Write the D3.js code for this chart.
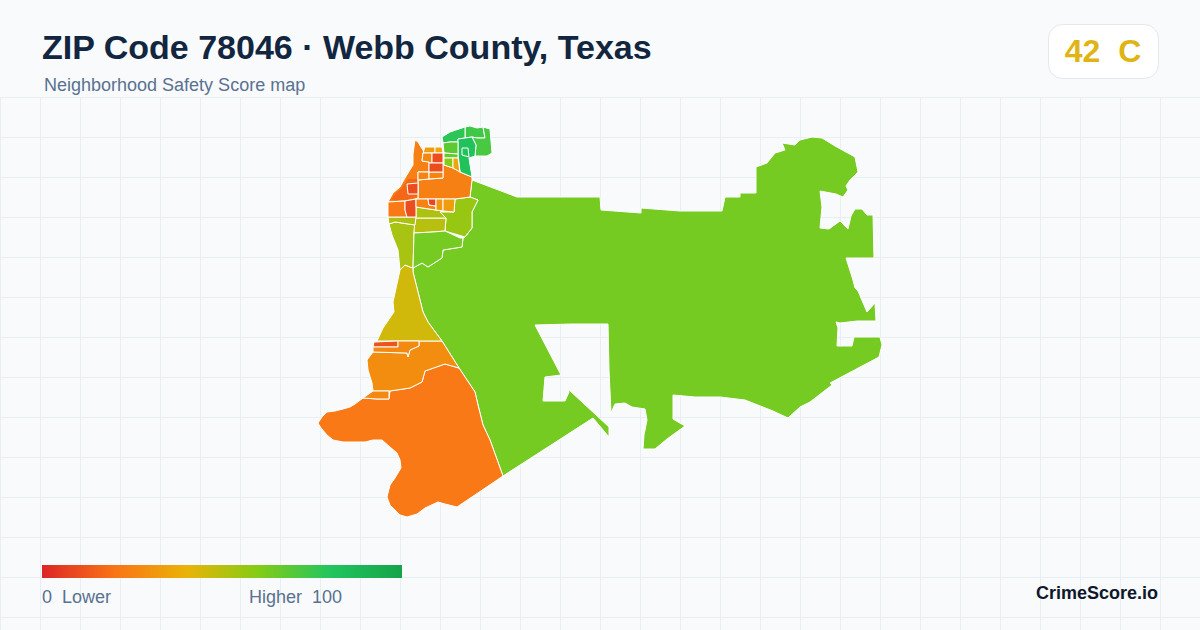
<!DOCTYPE html>
<html>
<head>
<meta charset="utf-8">
<script src="https://cdn.jsdelivr.net/npm/d3@7"></script>
<style>
  html, body { margin: 0; padding: 0; background: #f8fafc; }
  svg { display: block; }
  text { font-family: "Liberation Sans", Arial, sans-serif; white-space: pre; }
</style>
</head>
<body>
<div id="chart"></div>
<script>
// chart text
const titleText = 'ZIP Code 78046 · Webb County, Texas';
const subtitleText = 'Neighborhood Safety Score map';
const badgeText = '42  C';
const brandText = 'CrimeScore.io';
const legendLabels = ['0  Lower', 'Higher  100'];

// colour ramp of the score
const rampStops = [0, 20, 40, 60, 80, 100];
const rampColors = ['#dc2626', '#f97316', '#eab308', '#84cc16', '#22c55e', '#16a34a'];

// block group scores, same order as the outlines below
const regionScores = [
  63, 22, 28, 45,
  53, 56, 50, 52, 52, 63,
  24, 24, 25, 25,
  22, 10, 25, 8, 32, 33, 10,
  33, 36, 26, 10, 10,
  74, 78, 72, 82, 82, 68, 66, 60, 36,
  12, 27, 27
];

// outlines
const regionOutlines = [
  // big eastern tract
  [[472,180],[517,197],[600,197],[601,210],[641,213],[641,208],[680,211],[722,211],[725,197],[740,197],[740,193],[756,193],[756,167],[767,163],[775,153],[785,150],[782,143],[795,145],[800,140],[812,137],[822,138],[835,146],[855,157],[858,172],[850,180],[846,186],[848,190],[843,197],[836,194],[820,191],[822,207],[820,228],[829,229],[840,221],[848,229],[851,216],[855,209],[862,209],[867,215],[873,215],[874,258],[846,258],[853,280],[855,288],[858,291],[867,312],[875,303],[876,321],[857,321],[840,323],[836,322],[838,328],[837,346],[852,346],[854,337],[880,337],[882,345],[879,357],[830,383],[832,385],[810,402],[800,407],[788,418],[773,411],[745,400],[720,397],[695,397],[673,395],[673,419],[685,426],[667,439],[655,449],[643,449],[644,435],[647,420],[645,409],[632,407],[625,403],[615,404],[611,413],[609,370],[608,324],[572,324],[535,325],[561,375],[545,377],[543,401],[565,401],[569,392],[568,389],[609,427],[609,437],[593,418],[503,476],[490,440],[483,425],[478,405],[475,392],[459,368],[442,341],[428,322],[423,312],[413,272],[413,268],[422,263],[428,267],[442,258],[443,250],[462,247],[463,238],[465,237],[472,228],[472,212],[478,200],[470,197]],
  // southern tract
  [[363,398],[355,404],[350,407],[343,409],[335,411],[327,412],[322,417],[318,423],[321,428],[327,435],[333,440],[343,442],[353,442],[365,442],[373,440],[382,440],[390,447],[397,453],[400,460],[401,468],[395,478],[390,485],[387,497],[390,505],[400,515],[407,517],[417,514],[425,508],[438,502],[445,504],[457,507],[503,476],[490,440],[483,425],[478,405],[475,392],[459,368],[445,364],[425,371],[422,382],[410,388],[390,391],[389,399],[377,399]],
  // orange band above it
  [[367,360],[373,352],[407,353],[408,357],[410,350],[419,346],[419,341],[442,341],[459,368],[445,364],[425,371],[422,382],[410,388],[390,391],[373,391],[372,383],[368,370]],
  // yellow riverside tract
  [[400,270],[405,265],[410,267],[413,268],[413,272],[423,312],[428,322],[442,341],[377,341],[383,328],[394,312],[393,302]],
  // west lime tract
  [[389,224],[395,222],[415,225],[414,233],[413,268],[410,267],[405,265],[400,270],[398,250],[392,235]],
  // east lime block
  [[455,199],[470,197],[478,200],[472,212],[472,228],[465,237],[445,231],[446,218],[440,212],[454,212]],
  // centre lime blocks
  [[415,218],[446,218],[445,231],[433,232],[414,233]],
  [[416,207],[436,210],[443,211],[440,212],[446,218],[415,218],[416,217]],
  [[388,217],[416,217],[415,225],[395,222],[389,224]],
  [[414,233],[433,232],[445,231],[460,238],[463,238],[462,247],[443,250],[442,258],[428,267],[422,263],[413,268]],
  // north orange cluster
  [[418,180],[429,179],[443,178],[443,153],[444,153],[444,165],[453,168],[460,172],[472,177],[472,180],[470,197],[455,199],[416,199],[418,198]],
  [[415,140],[418,142],[424,152],[423,153],[422,161],[429,162],[429,172],[418,172],[418,198],[416,199],[405,201],[388,202],[393,193],[400,187],[405,178],[413,165],[413,154]],
  [[418,172],[429,172],[429,179],[418,180]],
  [[429,172],[443,172],[443,178],[429,179]],
  [[388,202],[405,201],[405,210],[407,217],[388,217]],
  [[405,201],[416,199],[416,217],[407,217],[405,210]],
  [[416,199],[428,199],[429,205],[436,206],[436,210],[416,207]],
  [[428,199],[436,199],[436,206],[429,205]],
  [[436,199],[443,199],[443,211],[436,210]],
  [[443,199],[455,199],[454,212],[443,211]],
  [[407,184],[418,183],[418,194],[408,194]],
  [[425,147],[435,147],[435,153],[423,153]],
  [[435,147],[442,147],[443,153],[435,153]],
  [[423,153],[432,153],[432,163],[429,163],[429,162],[422,161]],
  [[432,153],[443,153],[443,163],[432,163]],
  [[429,163],[443,163],[443,172],[429,172]],
  // north green cluster
  [[465,127],[470,126],[477,128],[483,127],[485,138],[477,138],[472,137],[465,138]],
  [[442,137],[450,132],[465,127],[465,138],[458,139],[458,142],[450,142],[443,143]],
  [[483,127],[490,129],[491,141],[492,153],[487,156],[475,156],[476,145],[472,137],[477,138],[485,138]],
  [[458,139],[465,138],[472,137],[476,145],[475,156],[469,158],[472,177],[460,172],[458,154]],
  [[462,148],[468,148],[469,157],[462,155]],
  [[443,143],[450,142],[458,142],[458,154],[444,153]],
  [[444,153],[458,154],[458,158],[444,158]],
  [[444,158],[453,158],[453,168],[444,165]],
  [[453,158],[458,158],[460,172],[453,168]],
  // south small parcels
  [[374,342],[398,341],[398,347],[373,347]],
  [[398,341],[419,341],[419,346],[410,350],[408,357],[407,353],[373,352],[373,347],[398,347]],
  [[363,398],[373,391],[389,391],[389,399],[377,399]]
];

// darker wash inside the north west tract, no outline of its own
const washScore = 17;
const washOutline = [[391,200],[395,194],[402,188],[408,179],[417,179],[417,197],[405,200]];

const width = 1200;
const height = 630;

const svg = d3.select('#chart')
  .append('svg')
  .attr('width', width)
  .attr('height', height);

// background grid
const gridStep = 40;
const gridTop = 97;
const grid = svg.append('g').attr('stroke', '#e7eff3').attr('stroke-width', 1);
grid.selectAll('.gv')
  .data(d3.range(0, width, gridStep))
  .join('line')
  .attr('class', 'gv')
  .attr('x1', d => d + 0.5).attr('x2', d => d + 0.5)
  .attr('y1', gridTop).attr('y2', height);
grid.selectAll('.gh')
  .data(d3.range(gridTop, height, gridStep))
  .join('line')
  .attr('class', 'gh')
  .attr('x1', 0).attr('x2', width)
  .attr('y1', d => d + 0.5).attr('y2', d => d + 0.5);

// header
svg.append('text').text(titleText)
  .attr('x', 42).attr('y', 59)
  .attr('font-size', 34).attr('font-weight', 700)
  .attr('fill', '#12263f');
svg.append('text').text(subtitleText)
  .attr('x', 44).attr('y', 91)
  .attr('font-size', 18)
  .attr('fill', '#5a7190');

// score badge
svg.append('rect')
  .attr('x', 1048.5).attr('y', 24.5)
  .attr('width', 110).attr('height', 54)
  .attr('rx', 14)
  .attr('fill', '#ffffff')
  .attr('stroke', '#e2e8f0');
svg.append('text').text(badgeText)
  .attr('x', 1103).attr('y', 62)
  .attr('text-anchor', 'middle')
  .attr('font-size', 32).attr('font-weight', 700)
  .attr('fill', '#e0b415');

// map
const color = d3.scaleLinear().domain(rampStops).range(rampColors);

const toFeature = (outline, score) => ({
  type: 'Feature',
  properties: { score: score },
  geometry: { type: 'Polygon', coordinates: [outline.concat([outline[0]])] }
});

const features = regionOutlines.map((outline, i) => toFeature(outline, regionScores[i]));
const washIndex = 12; // north west tract is the twelfth outline

const projection = d3.geoIdentity()
  .fitExtent([[318, 126], [882, 517]], { type: 'FeatureCollection', features: features });
const path = d3.geoPath(projection);

const map = svg.append('g');

map.selectAll('path.region')
  .data(features)
  .join('path')
  .attr('class', 'region')
  .attr('d', path)
  .attr('fill', d => color(d.properties.score))
  .attr('stroke', '#ffffff')
  .attr('stroke-width', 1)
  .attr('stroke-linejoin', 'round');

map.insert('path', `path.region:nth-child(${washIndex + 1})`)
  .datum(toFeature(washOutline, washScore))
  .attr('d', path)
  .attr('fill', d => color(d.properties.score));

// legend
const legendX = d3.scaleLinear().domain([0, 100]).range([42, 402]);

const gradient = svg.append('defs')
  .append('linearGradient')
  .attr('id', 'scoreRamp');
gradient.selectAll('stop')
  .data(rampStops)
  .join('stop')
  .attr('offset', d => d + '%')
  .attr('stop-color', d => color(d));

svg.append('rect')
  .attr('x', legendX(0)).attr('y', 565)
  .attr('width', legendX(100) - legendX(0)).attr('height', 13)
  .attr('fill', 'url(#scoreRamp)');

svg.append('text').text(legendLabels[0])
  .attr('x', 42).attr('y', 603)
  .attr('font-size', 18)
  .attr('fill', '#5a7190');
svg.append('text').text(legendLabels[1])
  .attr('x', 249).attr('y', 603)
  .attr('font-size', 18)
  .attr('fill', '#5a7190');

// brand
svg.append('text').text(brandText)
  .attr('x', 1158).attr('y', 599)
  .attr('text-anchor', 'end')
  .attr('font-size', 18).attr('font-weight', 700)
  .attr('fill', '#0f172a');
</script>
</body>
</html>
